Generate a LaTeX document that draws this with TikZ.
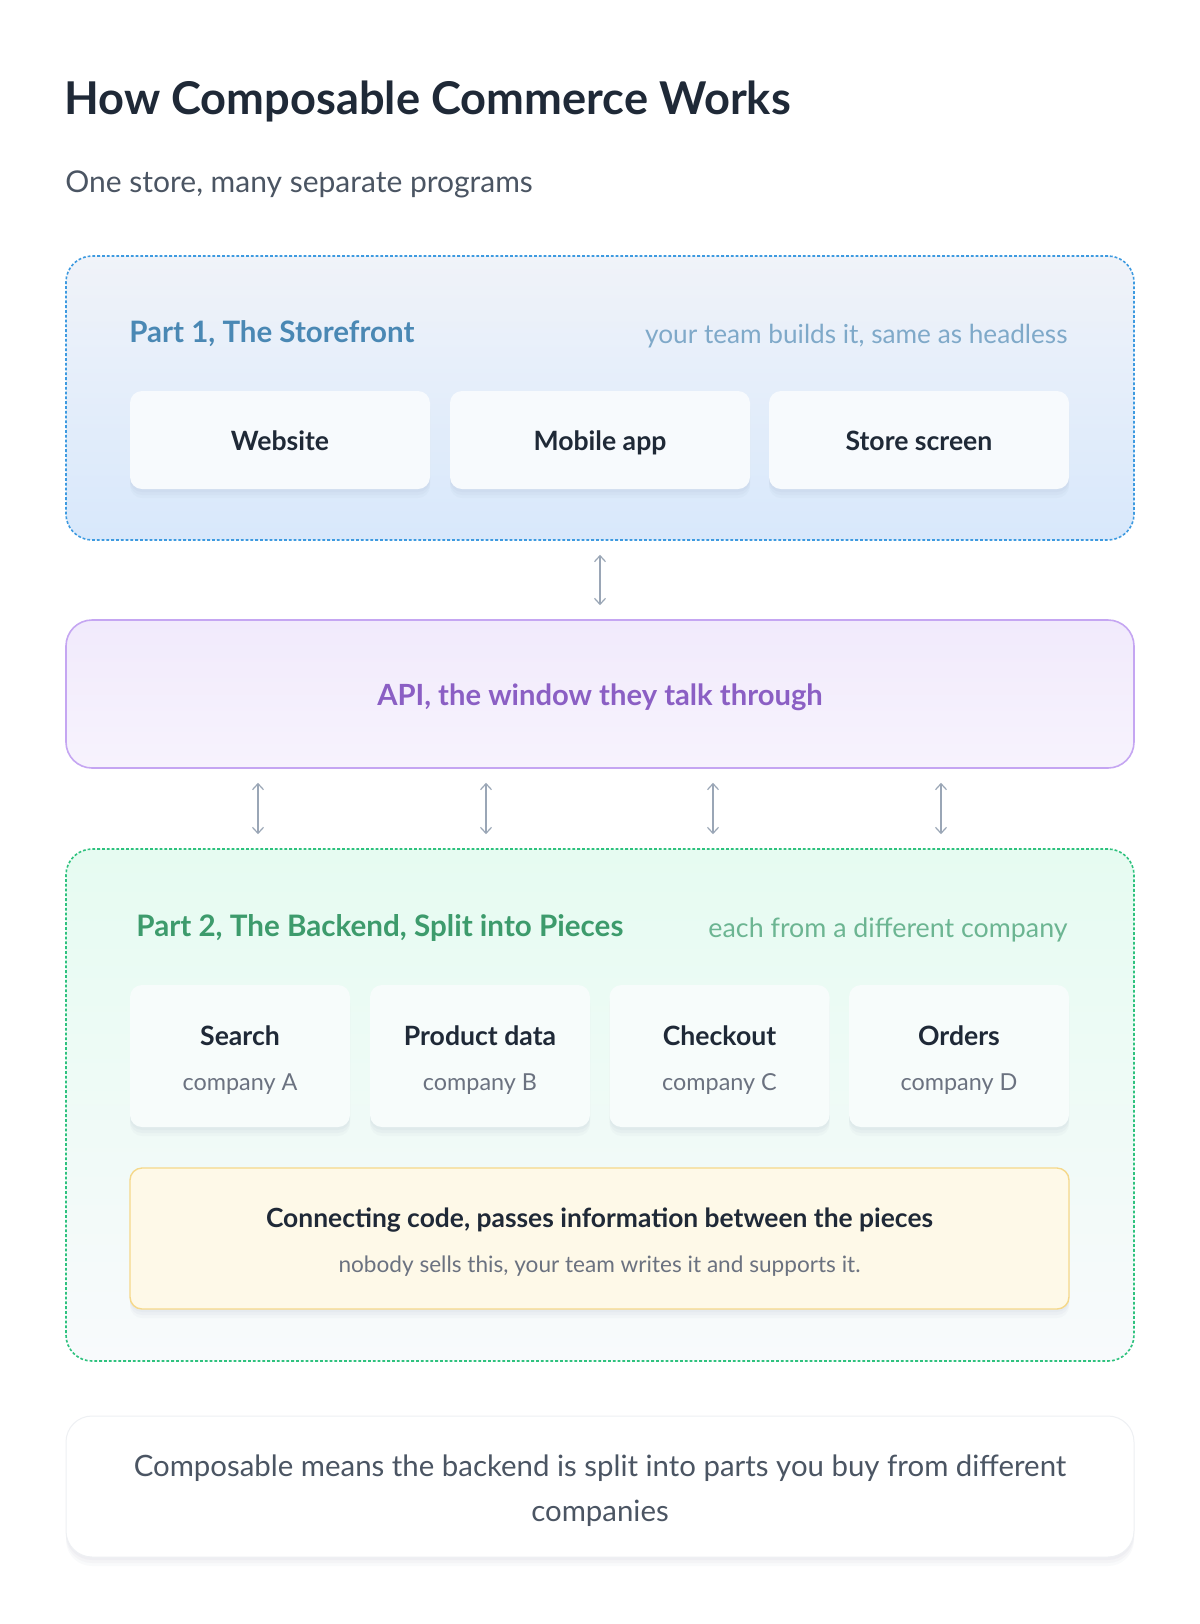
\documentclass[tikz,border=0pt]{standalone}
\usepackage{fontspec}
\setmainfont{Lato}
\usetikzlibrary{arrows.meta}
\definecolor{ink}{HTML}{1F2937}
\definecolor{subink}{HTML}{4B5563}
\definecolor{muted}{HTML}{6B7280}
\definecolor{sfTop}{HTML}{F0F3F9}
\definecolor{sfBot}{HTML}{D8E8FB}
\definecolor{sfBorder}{HTML}{3D9AE0}
\definecolor{sfTitle}{HTML}{4A88B4}
\definecolor{sfNote}{HTML}{7FA9C9}
\definecolor{cardA}{HTML}{F7FAFD}
\definecolor{apiTop}{HTML}{F1EAFC}
\definecolor{apiBot}{HTML}{F7F3FD}
\definecolor{apiBorder}{HTML}{C5A6F2}
\definecolor{apiText}{HTML}{8B5FC4}
\definecolor{arrowc}{HTML}{9AA6B6}
\definecolor{beTop}{HTML}{E6FBF1}
\definecolor{beBot}{HTML}{F8FAFC}
\definecolor{beBorder}{HTML}{2EC27E}
\definecolor{beTitle}{HTML}{3D9B6C}
\definecolor{beNote}{HTML}{6CB592}
\definecolor{cardB}{HTML}{F7FCFB}
\definecolor{ccFill}{HTML}{FEF9E8}
\definecolor{ccBorder}{HTML}{F5D88A}
\definecolor{botBorder}{HTML}{EEF0F3}
\definecolor{shadowc}{HTML}{5A6B8C}
\tikzset{
  bigbox/.style={rectangle, rounded corners=13pt, minimum width=534pt, inner sep=0pt},
  dotline/.style={line width=0.8pt, dash pattern=on 1.4pt off 1pt},
  softshadow/.style={
    preaction={fill=shadowc, fill opacity=0.035, draw=none, transform canvas={yshift=-1.5pt}},
    preaction={fill=shadowc, fill opacity=0.035, draw=none, transform canvas={yshift=-3pt}},
    preaction={fill=shadowc, fill opacity=0.03, draw=none, transform canvas={yshift=-4.5pt}}},
  card/.style={rectangle, rounded corners=6pt, inner sep=0pt, softshadow},
  txt/.style={inner sep=0pt, text height=0.9em, text depth=0.1em},
  cardlabel/.style={txt, font=\fontsize{13.3}{16}\selectfont\bfseries, text=ink},
  complabel/.style={txt, font=\fontsize{11.7}{14}\selectfont, text=muted},
  link/.style={draw=arrowc, line width=0.6pt, {Straight Barb[length=3pt,width=5.5pt]}-{Straight Barb[length=3pt,width=5.5pt]}, shorten >=7pt, shorten <=7pt},
}
\begin{document}
\begin{tikzpicture}[x=0.5pt,y=-0.5pt]
\useasboundingbox[fill=white] (0,0) rectangle (1200,1624);

% title
\node[txt, anchor=west, font=\fontsize{22.6}{27}\selectfont\bfseries, text=ink] (title) at (64,106) {How Composable Commerce Works};
\node[txt, anchor=west, font=\fontsize{15}{18}\selectfont, text=subink] (subtitle) at (65,184) {One store, many separate programs};

% storefront
\node[bigbox, minimum height=142pt, top color=sfTop, bottom color=sfBot, draw=sfBorder, dotline] (sf) at (600,398) {};
\node[txt, anchor=west, font=\fontsize{14.75}{18}\selectfont\bfseries, text=sfTitle] (sft) at (129,334) {Part 1, The Storefront};
\node[txt, anchor=east, font=\fontsize{13.1}{16}\selectfont, text=sfNote] (sfn) at (1068,335) {your team builds it, same as headless};
\node[card, fill=cardA, minimum width=150pt, minimum height=49pt] (web) at (280,440) {};
\node[card, fill=cardA, minimum width=150pt, minimum height=49pt] (mob) at (600,440) {};
\node[card, fill=cardA, minimum width=150pt, minimum height=49pt] (scr) at (919,440) {};
\node[cardlabel] (webt) at ([yshift=-1pt]web.center) {Website};
\node[cardlabel] (mobt) at ([yshift=-1pt]mob.center) {Mobile app};
\node[cardlabel] (scrt) at ([yshift=-1pt]scr.center) {Store screen};

% API
\node[bigbox, minimum height=74pt, top color=apiTop, bottom color=apiBot, draw=apiBorder, line width=0.8pt] (api) at (600,694) {};
\node[txt, font=\fontsize{14.6}{18}\selectfont\bfseries, text=apiText] (apit) at ([yshift=-1.5pt]api.center) {API, the window they talk through};

\draw[link] (sf.south) -- (api.north);

% backend
\node[bigbox, minimum height=256pt, top color=beTop, bottom color=beBot, draw=beBorder, dotline] (be) at (600,1105) {};
\node[txt, anchor=west, font=\fontsize{14.8}{18}\selectfont\bfseries, text=beTitle] (bet) at (136,928) {Part 2, The Backend, Split into Pieces};
\node[txt, anchor=east, font=\fontsize{13.4}{16}\selectfont, text=beNote] (ben) at (1068,929) {each from a different company};

\coordinate (c1) at (258,0);
\coordinate (c2) at (486,0);
\coordinate (c3) at (713,0);
\coordinate (c4) at (941,0);
\foreach \c in {c1,c2,c3,c4}{
  \draw[link] (api.south -| \c) -- (be.north -| \c);
}

\foreach \n/\x/\t/\s in {p1/240/Search/company A, p2/480/Product data/company B, p3/719.5/Checkout/company C, p4/959/Orders/company D}{
  \node[card, fill=cardB, minimum width=110pt, minimum height=71pt] (\n) at (\x,1056) {};
  \node[cardlabel] (\n t) at (\x,1037) {\t};
  \node[complabel] (\n s) at (\x,1082) {\s};
}

\node[card, fill=ccFill, draw=ccBorder, line width=0.7pt, minimum width=469.5pt, minimum height=70.5pt] (cc) at (599.5,1238.5) {};
\node[txt, font=\fontsize{13.2}{16}\selectfont\bfseries, text=ink] (cct) at (599.5,1219) {Connecting code, passes information between the pieces};
\node[txt, font=\fontsize{11.3}{14}\selectfont, text=muted] (ccs) at (599.5,1264) {nobody sells this, your team writes it and supports it.};

% bottom note
\node[bigbox, minimum height=70.5pt, fill=white, draw=botBorder, line width=0.5pt, softshadow] (note) at (600,1486.5) {};
\node[txt, font=\fontsize{14.7}{18}\selectfont, text=subink] (n1) at (600,1468) {Composable means the backend is split into parts you buy from different};
\node[txt, font=\fontsize{14.7}{18}\selectfont, text=subink] (n2) at (600,1513) {companies};
\end{tikzpicture}
\end{document}
